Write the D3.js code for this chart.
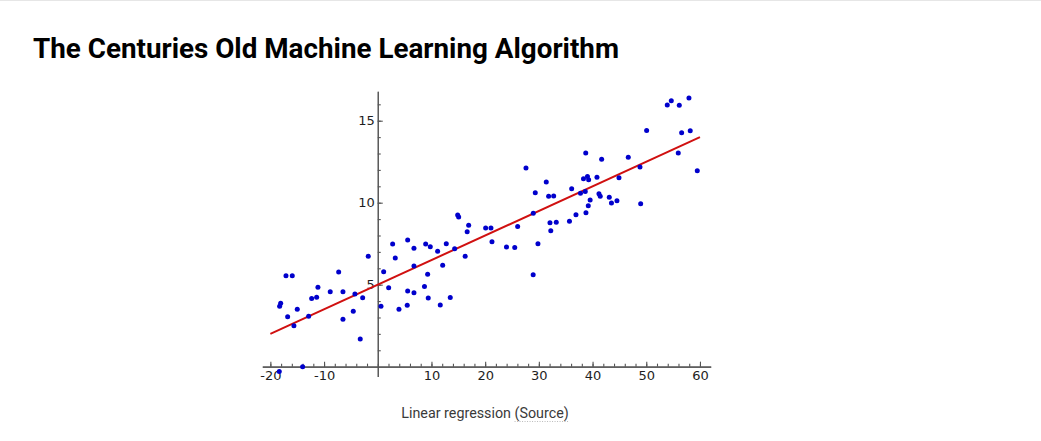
<!DOCTYPE html>
<html>
<head>
<meta charset="utf-8">
<script src="https://cdn.jsdelivr.net/npm/d3@7"></script>
<style>
  html, body { margin: 0; padding: 0; background: #fff; }
  svg { display: block; }
  .tick text { font-family: "DejaVu Sans", sans-serif; font-size: 13px; fill: #1e1e1e; }
  .axis path, .axis line { stroke: #555; stroke-width: 1.1; }
</style>
</head>
<body>
<div id="chart"></div>
<script>
// scattered samples
const pointX = [
  -18.27, -18.08, -17.09, -15.92, -16.78, -15.61, -14.99, -13.99, -18.34, -12.87,
  -12.31, -11.38, -11.14, -8.85, -7.28, -6.48, -6.48, -4.56, -4.25, -3.26,
  -2.81, -1.77, 0.60, 1.10, 2.03, 2.77, 3.26, 3.95, 5.57, 5.57,
  5.49, 6.74, 6.74, 6.74, 8.92, 9.78, 9.29, 8.70, 9.40, 11.15,
  12.09, 11.64, 12.76, 14.32, 13.50, 16.28, 16.65, 14.88, 15.07, 16.93,
  20.09, 21.08, 21.27, 23.97, 25.51, 26.05, 28.96, 28.94, 29.83, 32.07,
  32.22, 33.24, 27.60, 29.33, 31.38, 31.82, 32.76, 35.70, 36.11, 36.91,
  37.75, 38.31, 38.73, 38.64, 38.77, 39.05, 39.27, 39.20, 39.55, 40.82,
  41.19, 41.43, 41.69, 43.11, 43.52, 44.54, 44.92, 46.65, 48.83, 48.96,
  50.07, 55.96, 56.59, 58.19, 59.50, 53.91, 54.66, 56.15, 57.95
]
const pointY = [
  3.68, 3.87, 5.55, 5.55, 3.05, 2.50, 3.50, 0.00, -0.30, 3.07,
  4.15, 4.23, 4.84, 4.57, 5.77, 4.57, 2.89, 3.38, 4.43, 1.69,
  4.21, 6.73, 3.68, 5.79, 4.82, 7.48, 6.63, 3.50, 7.73, 4.62,
  3.74, 7.22, 6.14, 4.51, 7.48, 7.32, 5.63, 4.89, 4.19, 7.04,
  6.19, 3.76, 7.49, 7.19, 4.22, 6.73, 8.23, 9.25, 9.13, 8.62,
  8.46, 8.46, 7.62, 7.30, 7.26, 8.55, 9.36, 5.61, 7.49, 8.78,
  8.29, 8.80, 12.12, 10.61, 11.26, 10.39, 10.41, 8.87, 10.85, 9.27,
  10.58, 11.46, 13.03, 10.68, 9.39, 11.60, 11.40, 9.82, 10.16, 11.55,
  10.54, 10.39, 12.65, 10.33, 9.98, 10.12, 11.52, 12.77, 12.18, 9.94,
  14.41, 13.03, 14.27, 14.39, 11.95, 15.96, 16.22, 15.94, 16.38
]
// fitted line end points
const fitX = [-20, 60]
const fitY = [2.0, 14.0]

const xMajorTicks = [-20, -10, 10, 20, 30, 40, 50, 60]
const yMajorTicks = [5, 10, 15]
const xMinorTicks = d3.range(-20, 61, 2)
const yMinorTicks = d3.range(1, 17, 1)

const width = 1041
const height = 441

const svg = d3.select("#chart")
  .append("svg")
  .attr("width", width)
  .attr("height", height)

// faint page border at the top
svg.append("line")
  .attr("x1", 0).attr("x2", width)
  .attr("y1", 0.5).attr("y2", 0.5)
  .attr("stroke", "#e6e6e6")

svg.append("text")
  .attr("x", 33)
  .attr("y", 58)
  .attr("font-family", "Roboto, sans-serif")
  .attr("font-weight", 700)
  .attr("font-size", 27.8)
  .attr("fill", "#000")
  .text("The Centuries Old Machine Learning Algorithm")

const x = d3.scaleLinear().domain([-21.5, 62]).range([262.3, 710.7])
const y = d3.scaleLinear().domain([-0.6, 16.8]).range([376.5, 91.2])

const fmt = d => String(d)

// x axis through y = 0, ticks pointing up, labels below
svg.append("g")
  .attr("class", "axis")
  .attr("transform", `translate(0,${y(0)})`)
  .call(d3.axisBottom(x).tickValues(xMinorTicks).tickSize(-3).tickSizeOuter(0).tickFormat(""))

svg.append("g")
  .attr("class", "axis")
  .attr("transform", `translate(0,${y(0)})`)
  .call(d3.axisBottom(x).tickValues(xMajorTicks).tickSize(-5).tickSizeOuter(0).tickPadding(4).tickFormat(fmt))

// y axis through x = 0, ticks pointing right, labels left
svg.append("g")
  .attr("class", "axis")
  .attr("transform", `translate(${x(0)},0)`)
  .call(d3.axisLeft(y).tickValues(yMinorTicks).tickSize(-3).tickSizeOuter(0).tickFormat(""))

svg.append("g")
  .attr("class", "axis")
  .attr("transform", `translate(${x(0)},0)`)
  .call(d3.axisLeft(y).tickValues(yMajorTicks).tickSize(-5).tickSizeOuter(0).tickPadding(3).tickFormat(fmt))

// regression line
svg.append("path")
  .datum(d3.zip(fitX, fitY))
  .attr("fill", "none")
  .attr("stroke", "#d01010")
  .attr("stroke-width", 2)
  .attr("d", d3.line().x(d => x(d[0])).y(d => y(d[1])))

svg.append("g")
  .selectAll("circle")
  .data(d3.zip(pointX, pointY))
  .join("circle")
  .attr("cx", d => x(d[0]))
  .attr("cy", d => y(d[1]))
  .attr("r", 2.5)
  .attr("fill", "#0000cc")

// caption
const caption = svg.append("text")
  .attr("x", 485)
  .attr("y", 418)
  .attr("text-anchor", "middle")
  .attr("font-family", "Roboto, sans-serif")
  .attr("font-size", 14.3)
  .attr("fill", "#3a3a3a")

caption.append("tspan").text("Linear regression ")
const src = caption.append("tspan").text("(Source)")

const sb = src.node().getBBox()
svg.append("line")
  .attr("x1", sb.x).attr("x2", sb.x + sb.width)
  .attr("y1", 421.5).attr("y2", 421.5)
  .attr("stroke", "#aaa")
  .attr("stroke-width", 0.8)
  .attr("stroke-dasharray", "1,1.5")
</script>
</body>
</html>
